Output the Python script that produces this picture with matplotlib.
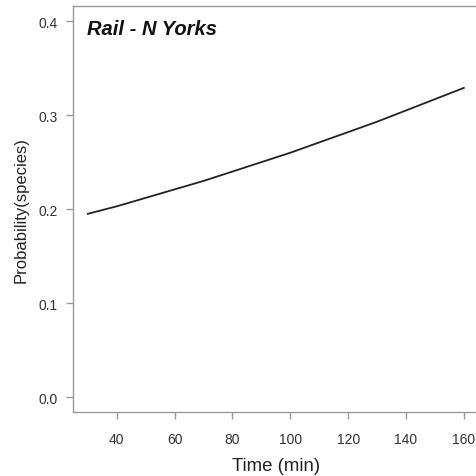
import matplotlib
matplotlib.use("Agg")
import matplotlib.pyplot as plt

plt.rcParams['font.family'] = ['Liberation Sans', 'DejaVu Sans']

# values
time_min = [30, 40, 50, 60, 70, 80, 90, 100, 110, 120, 130, 140, 150, 160]
prob = [0.195, 0.203, 0.212, 0.221, 0.230, 0.240, 0.250, 0.260, 0.271, 0.282, 0.293, 0.305, 0.317, 0.329]
xticks = [40, 60, 80, 100, 120, 140, 160]
yticks = [0.0, 0.1, 0.2, 0.3, 0.4]

fig = plt.figure(figsize=(4.76, 4.77), dpi=100)
ax = fig.add_axes([0.153, 0.134, 0.853, 0.851])

ax.plot(time_min, prob, color="#222222", lw=1.3)

# R style 4% padding
xr = max(time_min) - min(time_min)
ax.set_xlim(min(time_min) - 0.04 * xr, max(time_min) + 0.04 * xr)
ax.set_ylim(-0.016, 0.416)
ax.set_xticks(xticks)
ax.set_yticks(yticks)
ax.set_xticklabels([str(t) for t in xticks])
ax.set_yticklabels(["%.1f" % t for t in yticks])

for s in ax.spines.values():
    s.set_color("#999999")
    s.set_linewidth(1.0)
ax.tick_params(colors="#999999", labelcolor="#333333", labelsize=10, length=5, width=1)
ax.tick_params(axis="x", pad=9)
ax.tick_params(axis="y", pad=6)

ax.set_xlabel("Time (min)", fontsize=13.4, color="#222222", labelpad=8)
ax.set_ylabel("Probability(species)", fontsize=12, color="#222222", labelpad=7)
ax.text(0.034, 0.968, "Rail - N Yorks", transform=ax.transAxes, fontsize=14.5,
        fontweight="bold", fontstyle="italic", va="top", ha="left", color="#111111")

fig.savefig("out.png", dpi=100)
